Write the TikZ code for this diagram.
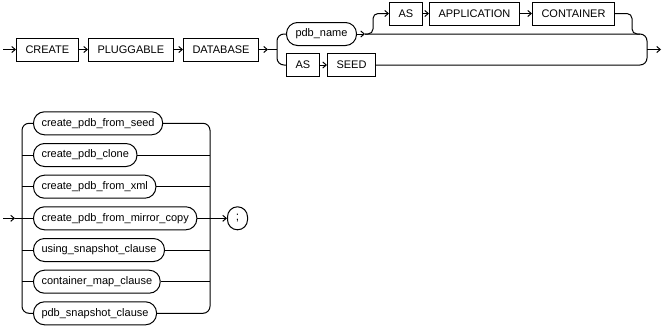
\documentclass[tikz,border=0pt]{standalone}
\usepackage{fontspec}
\setmainfont{Liberation Sans}
\usetikzlibrary{arrows.meta}
\begin{document}
\begin{tikzpicture}[x=1pt,y=-1pt,
  line width=1pt,
  kw/.style={draw, rectangle, minimum height=23pt, minimum width=28pt,
    inner xsep=9pt, inner ysep=0pt, anchor=west,
    font=\fontsize{11}{13}\selectfont},
  idn/.style={kw, inner xsep=8pt, rounded corners=11pt},
  arr/.style={-{Straight Barb[length=3.5pt,width=6pt]}},
  rail/.style={rounded corners=7pt}
]
\useasboundingbox (0,0) rectangle (666,327);

% ---------- first rule ----------
\node[kw]  (create)    at (16,49.5)  {CREATE};
\node[kw]  (pluggable) at (88,49.5)  {PLUGGABLE};
\node[kw]  (database)  at (183,49.5) {DATABASE};
\node[idn, inner xsep=9pt] (pdbname) at (286,34) {pdb\_name};
\node[kw]  (asapp)     at (389,13.5) {AS};
\node[kw]  (application) at (429,13.5) {APPLICATION};
\node[kw]  (container) at (532,13.5) {CONTAINER};
\node[kw]  (asseed)    at (286,65)   {AS};
\node[kw]  (seedkw)    at (327,65)   {SEED};

\coordinate (in1)  at (3,49.5);
\coordinate (tip1) at (268,49.5);
\coordinate (j1)   at (277,49.5);
\coordinate (p1)   at (365,34);
\coordinate (s1)   at (373,34);
\coordinate (s2)   at (632,34);
\coordinate (m1)   at (640,34);
\coordinate (j2)   at (647,49.5);
\coordinate (out1) at (661,49.5);

\draw[arr] (in1) -- (create.west);
\draw[arr] (create.east) -- (pluggable.west);
\draw[arr] (pluggable.east) -- (database.west);
\draw[arr] (database.east) -- (tip1);
\draw (tip1) -- (j1);
\draw[rail] (pdbname.west) -- (pdbname.west -| j1) -- (asseed.west -| j1) -- (asseed.west);
\draw[arr] (pdbname.east) -- (p1);
\draw[arr, rounded corners=5pt] (p1) -- (s1) -- (s1 |- asapp.west) -- (asapp.west);
\draw[arr] (asapp.east) -- (application.west);
\draw[arr] (application.east) -- (container.west);
\draw[rounded corners=5pt] (container.east) -- (container.east -| s2) -- (s2) -- (m1);
\draw[arr] (asseed.east) -- (seedkw.west);
\draw[rail] (p1) -- (p1 -| j2) -- (seedkw.east -| j2) -- (seedkw.east);
\draw[arr] (j2) -- (out1);

% ---------- second rule ----------
\node[idn] (fromseed) at (33,123.3) {create\_pdb\_from\_seed};
\node[idn] (clone)    at (33,155.0) {create\_pdb\_clone};
\node[idn] (fromxml)  at (33,186.7) {create\_pdb\_from\_xml};
\node[idn] (mirror)   at (33,218.3) {create\_pdb\_from\_mirror\_copy};
\node[idn] (usingss)  at (33,250.0) {using\_snapshot\_clause};
\node[idn] (cmap)     at (33,281.7) {container\_map\_clause};
\node[idn] (pdbss)    at (33,313.3) {pdb\_snapshot\_clause};
\node[idn, minimum width=20pt, inner xsep=4pt, rounded corners=10pt,
      font=\fontsize{12}{14}\selectfont] (semi) at (227,218.3) {;};

\coordinate (in2)  at (3,218.3);
\coordinate (tip2) at (15,218.3);
\coordinate (lbar) at (22,218.3);
\coordinate (rbar) at (210,218.3);

\draw[arr] (in2) -- (tip2);
\draw (tip2) -- (mirror.west);
\draw[rail] (fromseed.west) -- (fromseed.west -| lbar) -- (pdbss.west -| lbar) -- (pdbss.west);
\draw[rail] (fromseed.east) -- (fromseed.east -| rbar) -- (pdbss.east -| rbar) -- (pdbss.east);
\foreach \n in {clone, fromxml, usingss, cmap}{
  \draw (\n.west -| lbar) -- (\n.west);
  \draw (\n.east) -- (\n.east -| rbar);
}
\draw[arr] (mirror.east) -- (semi.west);
\end{tikzpicture}
\end{document}
